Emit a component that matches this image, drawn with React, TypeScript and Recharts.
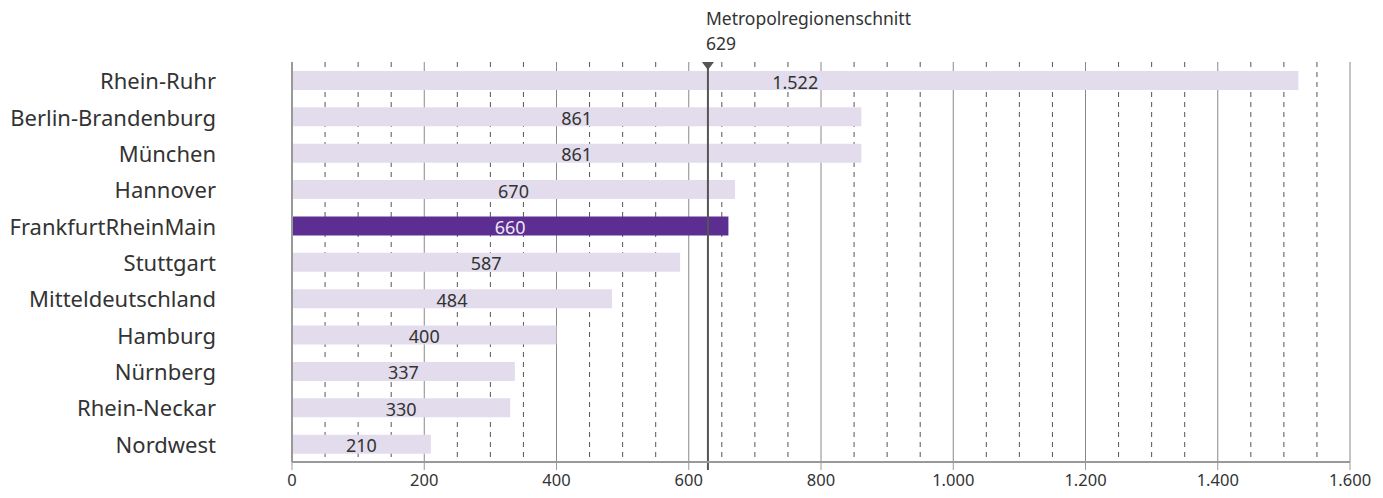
import { BarChart, Bar, XAxis, YAxis, CartesianGrid, Cell, LabelList, ReferenceLine } from 'recharts';

const regions = [
  'Rhein-Ruhr',
  'Berlin-Brandenburg',
  'München',
  'Hannover',
  'FrankfurtRheinMain',
  'Stuttgart',
  'Mitteldeutschland',
  'Hamburg',
  'Nürnberg',
  'Rhein-Neckar',
  'Nordwest',
];
const values = [1522, 861, 861, 670, 660, 587, 484, 400, 337, 330, 210];
const highlighted = 'FrankfurtRheinMain';

const average = 629;
const averageLabel = 'Metropolregionenschnitt';

const majorTicks = [0, 200, 400, 600, 800, 1000, 1200, 1400, 1600];
const minorTicks = [
  50, 100, 150, 250, 300, 350, 450, 500, 550, 650, 700, 750,
  850, 900, 950, 1050, 1100, 1150, 1250, 1300, 1350, 1450, 1500, 1550,
];

const FONT = '"Source Sans Pro", "Noto Sans", sans-serif';
const LIGHT = '#e2dcec';
const DARK = '#5c2e91';

const data = regions.map((name, i) => ({ name, value: values[i] }));

const fmt = (v: number) => String(v).replace(/\B(?=(\d{3})+(?!\d))/g, '.');

const RegionTick = ({ x, y, payload }: any) => (
  <text x={x - 76} y={y} textAnchor="end" dominantBaseline="central" fontSize={22} fill="#333" fontFamily={FONT}>
    {payload.value}
  </text>
);

const ValueLabel = ({ x, y, width, height, value, index }: any) => {
  const isHi = data[index]?.name === highlighted;
  return (
    <text
      x={x + width / 2}
      y={y + height / 2 + 1}
      textAnchor="middle"
      dominantBaseline="central"
      fontSize={18}
      fill={isHi ? '#ece6f4' : '#333'}
      fontFamily={FONT}
    >
      {fmt(value)}
    </text>
  );
};

// average line reaches a bit below the axis, like a tick
const AverageLine = ({ x1, y1, x2, y2 }: any) => (
  <line x1={x1} y1={Math.min(y1, y2)} x2={x2} y2={Math.max(y1, y2) + 8} stroke="#555" strokeWidth={2} />
);

const AverageLabel = ({ viewBox }: any) => {
  const x = viewBox.x;
  const top = viewBox.y;
  return (
    <g>
      <polygon points={`${x - 6},${top} ${x + 6},${top} ${x},${top + 8}`} fill="#555" />
      <text x={x - 2} y={18} fontSize={17.5} fill="#333" fontFamily={FONT} dominantBaseline="central">
        {averageLabel}
      </text>
      <text x={x - 2} y={43} fontSize={17.5} fill="#333" fontFamily={FONT} dominantBaseline="central">
        {average}
      </text>
    </g>
  );
};

export default function App() {
  return (
    <div style={{ position: 'absolute', left: 0, top: 0, background: '#fff' }}>
      <BarChart
        width={1383}
        height={498}
        data={data}
        layout="vertical"
        margin={{ top: 62, right: 33, bottom: 0, left: 0 }}
        barSize={19}
      >
        <CartesianGrid horizontal={false} verticalValues={minorTicks} stroke="#555" strokeDasharray="5 5" />
        <CartesianGrid horizontal={false} verticalValues={majorTicks} stroke="#888" />
        <XAxis
          type="number"
          domain={[0, 1600]}
          ticks={majorTicks}
          interval={0}
          tickFormatter={fmt}
          height={36}
          axisLine={{ stroke: '#999', strokeWidth: 2 }}
          tickLine={{ stroke: '#999' }}
          tickSize={8}
          tickMargin={4}
          tick={{ fontSize: 16.5, fill: '#333', fontFamily: FONT }}
        />
        <YAxis
          type="category"
          dataKey="name"
          width={292}
          axisLine={{ stroke: '#999', strokeWidth: 2 }}
          tickLine={false}
          tickSize={0}
          tickMargin={0}
          interval={0}
          tick={<RegionTick />}
        />
        <Bar dataKey="value" isAnimationActive={false}>
          {data.map((d) => (
            <Cell key={d.name} fill={d.name === highlighted ? DARK : LIGHT} />
          ))}
          <LabelList dataKey="value" content={<ValueLabel />} />
        </Bar>
        <ReferenceLine
          x={average}
          stroke="#555"
          strokeWidth={2}
          shape={<AverageLine />}
          label={<AverageLabel />}
        />
      </BarChart>
    </div>
  );
}
